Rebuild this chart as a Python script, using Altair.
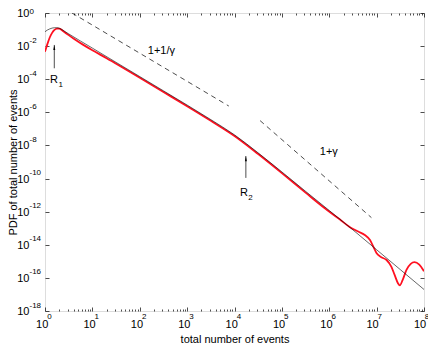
import altair as alt
import numpy as np
import pandas as pd

W, H = 379, 298
FONT = "Liberation Sans"

# ---- data (log10 of x, log10 of PDF) ----
black_logx = [0.0, 0.05, 0.1, 0.15, 0.2, 0.25, 0.3, 0.4, 0.5, 1.0, 1.5, 2.0, 2.5, 3.0,
              3.5, 4.0, 4.5, 5.0, 5.5, 6.0, 6.5, 7.0, 7.5, 8.0]
black_logy = [-1.13, -1.03, -0.96, -0.91, -0.89, -0.89, -0.92, -1.08, -1.26, -2.12, -2.98,
              -3.84, -4.70, -5.56, -6.44, -7.36, -8.45, -9.60, -10.77, -11.93, -13.10,
              -14.30, -15.50, -16.70]

red_logx = [0.0, 0.05, 0.1, 0.15, 0.2, 0.25, 0.3, 0.4, 0.6, 0.8, 1.0, 1.3, 1.6, 2.0, 2.5,
            3.0, 3.5, 4.0, 4.5, 5.0, 5.5, 5.9, 6.22, 6.43, 6.61, 6.75, 6.86, 6.93, 7.0,
            7.1, 7.21, 7.31, 7.38, 7.45, 7.49, 7.55, 7.63, 7.72, 7.80, 7.90, 8.0]
red_logy = [-2.34, -1.88, -1.48, -1.20, -1.02, -0.94, -0.94, -1.13, -1.54, -1.91, -2.25,
            -2.73, -3.23, -3.91, -4.77, -5.63, -6.51, -7.43, -8.52, -9.67, -10.85, -11.78,
            -12.46, -12.92, -13.20, -13.41, -13.71, -14.11, -14.51, -14.75, -14.92, -15.32,
            -15.82, -16.32, -16.45, -16.12, -15.52, -15.15, -15.05, -15.20, -15.60]

slopeA_logx = [0.57, 3.88]
slopeA_logy = [0.0, -5.62]
slopeB_logx = [4.54, 6.89]
slopeB_logy = [-6.50, -12.36]

x_major = [10.0 ** k for k in range(0, 9)]
x_minor = [m * 10.0 ** k for k in range(0, 8) for m in range(2, 10)]
y_major = [10.0 ** (-k) for k in range(0, 19, 2)]

# annotations
ann_text = ["1+1/\u03b3", "1+\u03b3", "R", "R"]
ann_logx = [2.17, 5.80, 0.105, 4.114]
ann_logy = [-2.48, -8.57, -4.23, -11.05]
sub_text = ["1", "2"]
sub_logx = [0.284, 4.29]
sub_logy = [-4.47, -11.29]
arrow_logx = [0.196, 4.24]
arrow_tip_logy = [-1.93, -8.64]
arrow_tail_logy = [-3.34, -9.96]


def frame(lx, ly):
    return pd.DataFrame({"x": 10.0 ** np.array(lx), "y": 10.0 ** np.array(ly)})


black_df = frame(black_logx, black_logy)
red_df = frame(red_logx, red_logy)
a_df = frame(slopeA_logx, slopeA_logy)
b_df = frame(slopeB_logx, slopeB_logy)
ann_df = frame(ann_logx, ann_logy).assign(t=ann_text)
sub_df = frame(sub_logx, sub_logy).assign(t=sub_text)
arr_df = pd.DataFrame({"x": 10.0 ** np.array(arrow_logx),
                       "y": 10.0 ** np.array(arrow_tip_logy),
                       "y2": 10.0 ** np.array(arrow_tail_logy)})

xs = alt.Scale(type="log", domain=[1, 1e8], nice=False)
ys = alt.Scale(type="log", domain=[1e-18, 1], nice=False)

EXP = "'' + round(log(datum.value) / LN10)"

ax_x_base = alt.Axis(orient="bottom", values=x_major, labelExpr="'10'", ticks=False, tickSize=0,
                     domain=False, grid=False, labelFont=FONT, labelFontSize=11,
                     labelColor="black", labelPadding=7,
                     labelOffset={"condition": {"test": "datum.value >= 1e7", "value": -4.5},
                                  "value": -3.3},
                     labelAlign="center",
                     labelBaseline="top", labelFlush=False, labelOverlap=False,
                     title="total number of events", titleFont=FONT, titleFontSize=11,
                     titleFontWeight="normal", titleColor="black", titlePadding=4)
ax_x_exp = alt.Axis(orient="bottom", values=x_major, labelExpr=EXP, ticks=False, tickSize=0,
                    domain=False, grid=False, labelFont=FONT, labelFontSize=8,
                    labelColor="black", labelPadding=1.5,
                    labelOffset={"condition": {"test": "datum.value >= 1e7", "value": 0.3},
                                 "value": 1.7},
                    labelAlign="left",
                    labelBaseline="top", labelFlush=False, labelOverlap=False, title=None)
ax_y_base = alt.Axis(orient="left", values=y_major, labelExpr="'10'", ticks=False, tickSize=0,
                     domain=False, grid=False, labelFont=FONT, labelFontSize=11,
                     labelColor="black", labelPadding=16, labelAlign="right",
                     labelBaseline="middle", labelOffset=0.5, labelFlush=False,
                     labelOverlap=False,
                     title="PDF of total number of events", titleFont=FONT, titleFontSize=11,
                     titleFontWeight="normal", titleColor="black", titlePadding=0,
                     titleBaseline="alphabetic")
ax_y_exp = alt.Axis(orient="left", values=y_major, labelExpr=EXP, ticks=False, tickSize=0,
                    domain=False, grid=False, labelFont=FONT, labelFontSize=8,
                    labelColor="black", labelPadding=16, labelAlign="left",
                    labelBaseline="middle",
                    labelOffset={"condition": {"test": "datum.value >= 0.5", "value": -1.5},
                                 "value": -6},
                    labelFlush=False, labelOverlap=False, title=None)


def tick_axis(orient, values, size, offset):
    return alt.Axis(orient=orient, values=values, labels=False, domain=False, grid=False,
                    ticks=True, tickSize=size, tickColor="black", tickWidth=0.7,
                    offset=offset, title=None)


red = alt.Chart(red_df).mark_line(color="#ff1020", strokeWidth=1.8, interpolate="monotone",
                                  clip=True).encode(
    x=alt.X("x:Q", scale=xs, axis=ax_x_base),
    y=alt.Y("y:Q", scale=ys, axis=ax_y_base))

black = alt.Chart(black_df).mark_line(color="black", strokeWidth=0.6, interpolate="monotone",
                                      clip=True).encode(
    x=alt.X("x:Q", scale=xs, axis=ax_x_exp),
    y=alt.Y("y:Q", scale=ys, axis=ax_y_exp))

dashA = alt.Chart(a_df).mark_line(color="black", strokeWidth=0.7, strokeDash=[5, 4],
                                  clip=True).encode(
    x=alt.X("x:Q", scale=xs, axis=tick_axis("top", x_major, 4, -H)),
    y=alt.Y("y:Q", scale=ys, axis=tick_axis("right", y_major, 4, -W)))

dashB = alt.Chart(b_df).mark_line(color="black", strokeWidth=0.7, strokeDash=[5, 4],
                                  clip=True).encode(
    x=alt.X("x:Q", scale=xs, axis=tick_axis("bottom", x_major, 4, -H)),
    y=alt.Y("y:Q", scale=ys, axis=tick_axis("left", y_major, 4, -W)))

minor_bottom = alt.Chart(black_df).mark_line(opacity=0).encode(
    x=alt.X("x:Q", scale=xs, axis=tick_axis("top", x_minor, 2, -H)),
    y=alt.Y("y:Q", scale=ys, axis=None))

minor_top = alt.Chart(black_df).mark_line(opacity=0).encode(
    x=alt.X("x:Q", scale=xs, axis=tick_axis("bottom", x_minor, 2, -H)),
    y=alt.Y("y:Q", scale=ys, axis=None))

texts = alt.Chart(ann_df).mark_text(align="left", baseline="alphabetic", font=FONT,
                                    fontSize=11, color="black").encode(
    x=alt.X("x:Q", scale=xs, axis=None),
    y=alt.Y("y:Q", scale=ys, axis=None),
    text="t:N")

subs = alt.Chart(sub_df).mark_text(align="left", baseline="alphabetic", font=FONT,
                                   fontSize=8, color="black").encode(
    x=alt.X("x:Q", scale=xs, axis=None),
    y=alt.Y("y:Q", scale=ys, axis=None),
    text="t:N")

shafts = alt.Chart(arr_df).mark_rule(color="black", strokeWidth=0.7).encode(
    x=alt.X("x:Q", scale=xs, axis=None),
    y=alt.Y("y:Q", scale=ys, axis=None),
    y2="y2:Q")

heads = alt.Chart(arr_df).mark_point(shape="M0,-1L0.33,0.7L-0.33,0.7Z", size=36, filled=True,
                                     color="black", opacity=1, strokeWidth=0,
                                     yOffset=3).encode(
    x=alt.X("x:Q", scale=xs, axis=None),
    y=alt.Y("y:Q", scale=ys, axis=None))

chart = alt.layer(red, black, dashA, dashB, minor_bottom, minor_top, texts, subs, shafts,
                  heads).resolve_axis(x="independent", y="independent").properties(
    width=W, height=H,
    autosize=alt.AutoSizeParams(type="none"),
    padding={"left": 37, "top": 5, "right": 4, "bottom": 33},
).configure_view(stroke="black", strokeWidth=0.8).configure(background="white")

chart.save("out.html", embed_options={"renderer": "svg", "actions": False})
